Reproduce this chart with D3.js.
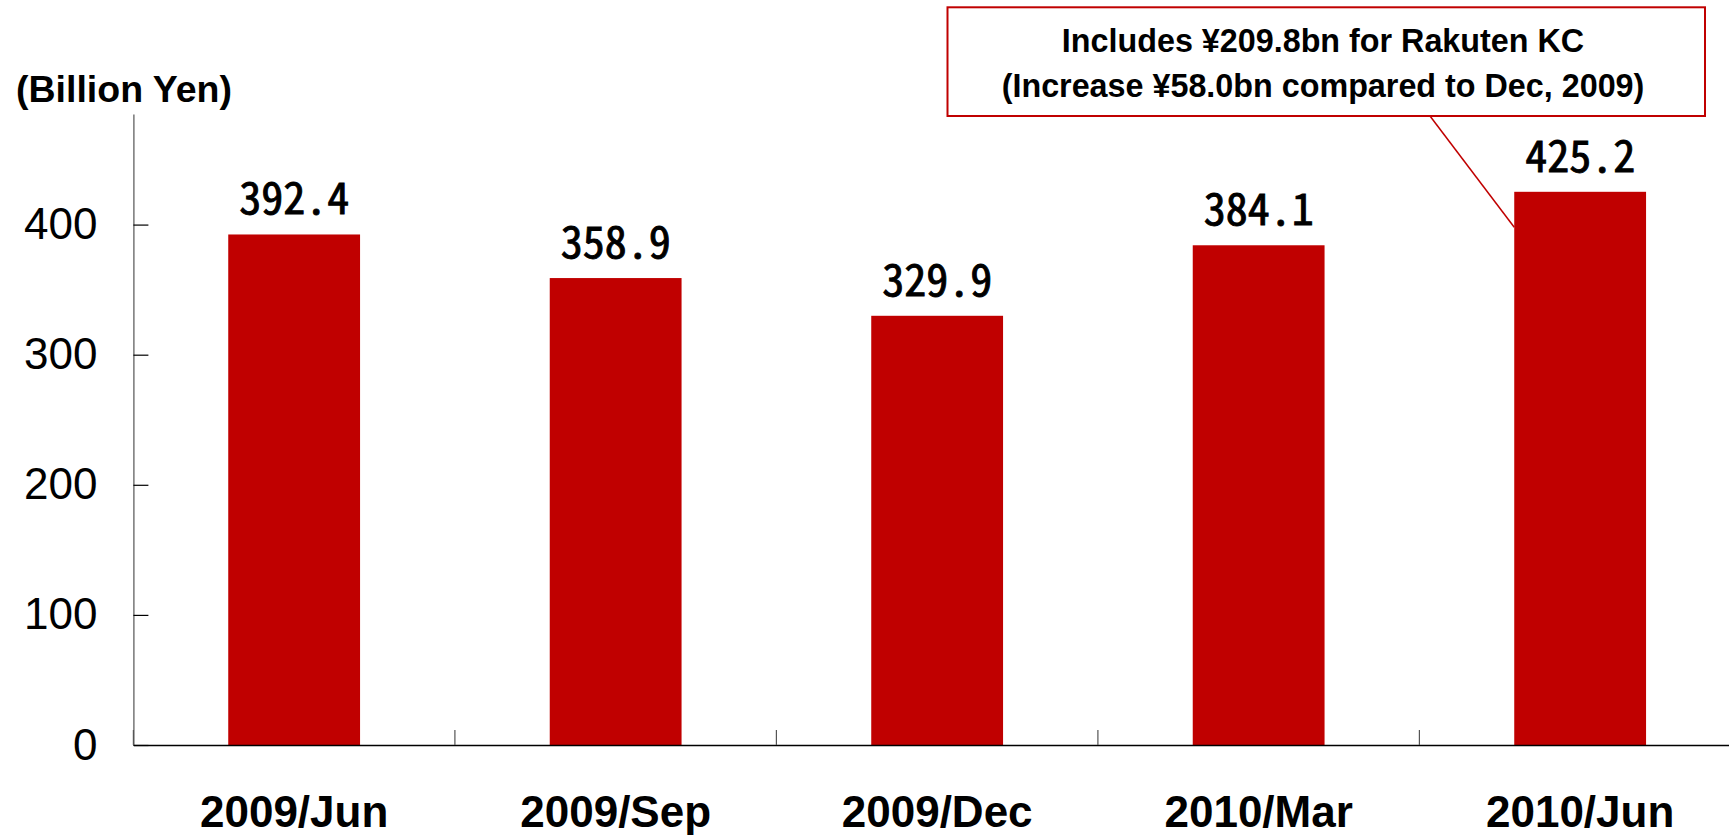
<!DOCTYPE html>
<html>
<head>
<meta charset="utf-8">
<script src="https://cdn.jsdelivr.net/npm/d3@7"></script>
<style>
  html, body { margin: 0; padding: 0; background: #ffffff; }
  svg { display: block; }
  .val { font-family: "Noto Sans Mono CJK JP", "Noto Sans CJK JP", "DejaVu Sans Mono", monospace; }
  .sans { font-family: Arial, "Liberation Sans", Helvetica, sans-serif; }
</style>
</head>
<body>
<svg id="chart" width="1729" height="835"></svg>
<script>
// Total balance at quarter end (billion yen)
const categories = ["2009/Jun", "2009/Sep", "2009/Dec", "2010/Mar", "2010/Jun"];
const values = [392.4, 358.9, 329.9, 384.1, 425.2];
const yTicks = [0, 100, 200, 300, 400];
const unitLabel = "(Billion Yen)";
const noteLines = [
  "Includes \u00a5209.8bn for Rakuten KC",
  "(Increase \u00a558.0bn compared to Dec, 2009)"
];
const noteTarget = { category: "2010/Jun", value: 398 };

const RED = "#C00000";
const svg = d3.select("#chart");

const x = d3.scaleBand()
  .domain(categories)
  .range([133.4, 133.4 + 5 * 321.5])
  .paddingInner(0.59)
  .paddingOuter(0.295);

const y = d3.scaleLinear()
  .domain([0, 485])
  .range([745, 114]);

// bars
svg.append("g").selectAll("rect")
  .data(values)
  .join("rect")
  .attr("x", (d, i) => x(categories[i]))
  .attr("y", d => y(d))
  .attr("width", x.bandwidth())
  .attr("height", d => y(0) - y(d))
  .attr("fill", RED);

// value labels (regular weight, slightly thickened with a thin outline)
svg.append("g").selectAll("text")
  .data(values)
  .join("text")
  .attr("class", "val")
  .attr("x", (d, i) => x(categories[i]) + x.bandwidth() / 2)
  .attr("y", d => y(d) - 20)
  .attr("text-anchor", "middle")
  .attr("font-size", 44)
  .attr("fill", "#000")
  .attr("stroke", "#000")
  .attr("stroke-width", 0.9)
  .text(d => d.toFixed(1));

// y axis with inward ticks
const yAxis = svg.append("g")
  .attr("transform", `translate(${x.range()[0]},0)`)
  .call(d3.axisLeft(y)
    .tickValues(yTicks)
    .tickSizeInner(-15)
    .tickSizeOuter(0)
    .tickPadding(36)
    .tickFormat(d3.format("d")));
yAxis.select(".domain").attr("stroke", "#555").attr("stroke-width", 1.2);
yAxis.selectAll(".tick line").attr("stroke", "#000").attr("stroke-width", 1.2);
yAxis.selectAll(".tick text")
  .attr("class", "sans")
  .attr("font-size", 44)
  .attr("fill", "#000");

// x axis: baseline, category labels, and boundary ticks
const xAxis = svg.append("g")
  .attr("transform", `translate(0,${y(0)})`)
  .call(d3.axisBottom(x)
    .tickSizeInner(0)
    .tickSizeOuter(0)
    .tickPadding(51));
xAxis.select(".domain").attr("stroke", "#000").attr("stroke-width", 1.5);
xAxis.selectAll(".tick text")
  .attr("class", "sans")
  .attr("font-size", 44)
  .attr("font-weight", "bold")
  .attr("fill", "#000");

const bounds = d3.range(categories.length + 1).map(i => x.range()[0] + i * x.step());
svg.append("g").selectAll("line")
  .data(bounds)
  .join("line")
  .attr("x1", d => d).attr("x2", d => d)
  .attr("y1", y(0)).attr("y2", y(0) - 15)
  .attr("stroke", "#555")
  .attr("stroke-width", 1.2);

// unit label
svg.append("text")
  .attr("class", "sans")
  .attr("x", 16)
  .attr("y", 102)
  .attr("font-size", 37.5)
  .attr("font-weight", "bold")
  .attr("fill", "#000")
  .text(unitLabel);

// callout box with leader line
const box = { x0: 947.5, x1: 1705, y0: 7.3, y1: 116 };
svg.append("line")
  .attr("x1", 1430).attr("y1", box.y1)
  .attr("x2", x(noteTarget.category)).attr("y2", y(noteTarget.value))
  .attr("stroke", RED)
  .attr("stroke-width", 1.5);
svg.append("rect")
  .attr("x", box.x0).attr("y", box.y0)
  .attr("width", box.x1 - box.x0).attr("height", box.y1 - box.y0)
  .attr("fill", "#fff")
  .attr("stroke", RED)
  .attr("stroke-width", 2);
svg.append("g").selectAll("text")
  .data(noteLines)
  .join("text")
  .attr("class", "sans")
  .attr("x", 1323)
  .attr("y", (d, i) => 51.7 + i * 45)
  .attr("text-anchor", "middle")
  .attr("font-size", 32.3)
  .attr("font-weight", "bold")
  .attr("fill", "#000")
  .text(d => d);
</script>
</body>
</html>
